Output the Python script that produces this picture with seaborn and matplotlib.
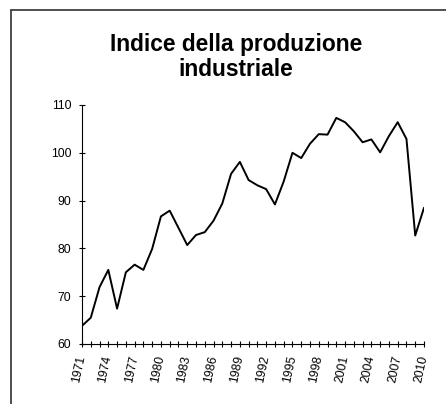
import matplotlib
matplotlib.use("Agg")
import matplotlib.pyplot as plt
import seaborn as sns
import pandas as pd
from matplotlib.lines import Line2D

years = list(range(1971, 2011))
values = [63.8, 65.5, 71.9, 75.5, 67.4, 75.0, 76.6, 75.5, 79.9, 86.7,
          87.9, 84.3, 80.7, 82.8, 83.4, 85.8, 89.4, 95.6, 98.1, 94.3,
          93.2, 92.4, 89.2, 94.0, 100.0, 98.9, 101.9, 103.9, 103.8, 107.3,
          106.4, 104.5, 102.2, 102.8, 100.1, 103.5, 106.4, 102.9, 82.7, 88.5]
title = "Indice della produzione\nindustriale"
y_ticks = [60, 70, 80, 90, 100, 110]

df = pd.DataFrame({"anno": years, "indice": values})

sns.set_style("white")
plt.rcParams["font.family"] = ["Liberation Sans", "DejaVu Sans"]
plt.rcParams["text.color"] = "black"

fig = plt.figure(figsize=(4.46, 4.04), dpi=100)
W, H = 446, 404
ax = fig.add_axes([82 / W, 1 - 344 / H, (424 - 82) / W, (344 - 105) / H])

sns.lineplot(data=df, x="anno", y="indice", ax=ax, color="black", lw=1.4)

ax.set_xlim(1971, 2010)
ax.set_ylim(60, 110)
ax.set_yticks(y_ticks)
ax.set_yticklabels([str(v) for v in y_ticks], fontsize=8.7)
ax.set_xticks(years)
ax.set_xticklabels([str(y) if (y - 1971) % 3 == 0 else "" for y in years],
                   fontsize=8.7, rotation=78, ha="right", va="center",
                   rotation_mode="anchor")
ax.tick_params(axis="both", direction="inout", length=4.5, width=0.8,
               color="black", labelcolor="black", bottom=True, left=True)
ax.tick_params(axis="y", pad=5.5)
ax.tick_params(axis="x", pad=6)
ax.set_xlabel("")
ax.set_ylabel("")
for s in ["top", "right"]:
    ax.spines[s].set_visible(False)
for s in ["left", "bottom"]:
    ax.spines[s].set_color("black")
    ax.spines[s].set_linewidth(0.8)

fig.text(236 / W, 1 - 33 / H, title, ha="center", va="top", color="black",
         fontsize=16.4, fontweight="bold", linespacing=1.1)

# outer frame (cropped chart area border)
fig.add_artist(Line2D([11 / W, 1.0], [1 - 10 / H, 1 - 10 / H],
                      transform=fig.transFigure, color="#404040", lw=1.3))
fig.add_artist(Line2D([11 / W, 11 / W], [0.0, 1 - 10 / H],
                      transform=fig.transFigure, color="#404040", lw=1.3))

fig.savefig("out.png", dpi=100)
